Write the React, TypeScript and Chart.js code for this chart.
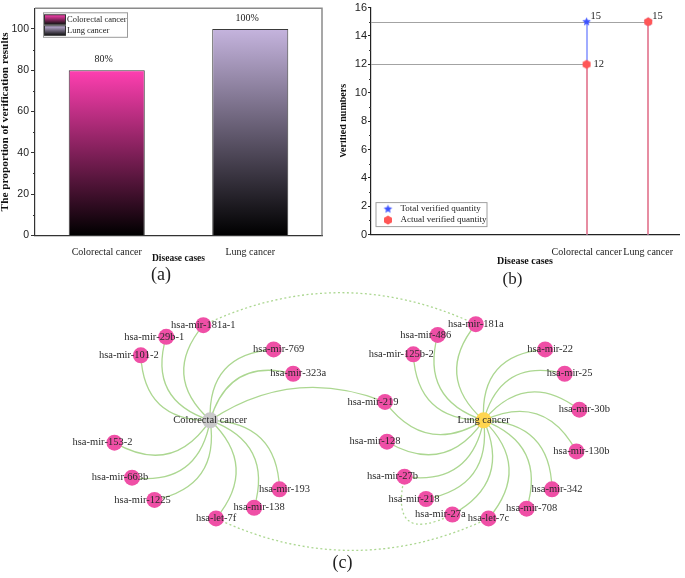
import React, { useEffect, useRef } from 'react';
import { Chart, registerables } from 'chart.js';

Chart.register(...registerables);

const SERIF = '"Liberation Serif", "Times New Roman", Times, serif';
const SANS = '"Liberation Sans", Arial, Helvetica, sans-serif';

// ---------- (a) proportion of verification results ----------
const diseaseCases = ['Colorectal cancer', 'Lung cancer'];
const verificationProportion = [80, 100];
const proportionLabels = ['80%', '100%'];

// ---------- (b) verified numbers ----------
const verifiedSeries = ['Total verified quantity', 'Actual verified quantity'];
const totalVerified = [15, 15];
const actualVerified = [12, 15];
const caseSlots = [3.5, 4.5]; // row index of each case on the x axis

// ---------- (c) network (layout coordinates) ----------
const hubNames = ['Colorectal cancer', 'Lung cancer'];
const hubX = [207, 487];
const hubY = [126, 126];

const colorectalMirnas = [
  'hsa-mir-181a-1', 'hsa-mir-29b-1', 'hsa-mir-101-2', 'hsa-mir-769', 'hsa-mir-323a',
  'hsa-mir-153-2', 'hsa-mir-663b', 'hsa-mir-1225', 'hsa-let-7f', 'hsa-mir-138', 'hsa-mir-193',
];
const colorectalX = [200, 162, 136, 272, 292, 109, 127, 150, 213, 252, 278];
const colorectalY = [28, 40, 59, 53, 78, 149, 185, 208, 227, 216, 197];

const lungMirnas = [
  'hsa-mir-181a', 'hsa-mir-486', 'hsa-mir-125b-2', 'hsa-mir-22', 'hsa-mir-25', 'hsa-mir-30b',
  'hsa-mir-130b', 'hsa-mir-342', 'hsa-mir-708', 'hsa-let-7c', 'hsa-mir-27a', 'hsa-mir-218',
  'hsa-mir-27b', 'hsa-mir-128', 'hsa-mir-219',
];
const lungX = [479, 440, 415, 550, 570, 585, 582, 557, 531, 492, 455, 428, 406, 388, 386];
const lungY = [27, 38, 58, 53, 78, 115, 158, 197, 217, 227, 223, 207, 184, 148, 107];

const crossLinks = [['Colorectal cancer', 'hsa-mir-219']];
const familyLinks = [
  ['hsa-mir-181a-1', 'hsa-mir-181a'],
  ['hsa-let-7c', 'hsa-let-7f'],
  ['hsa-mir-27a', 'hsa-mir-27b'],
];

// ---------- styles ----------
const barTopColors = ['#ff3fb1', '#c5b4de'];
const starColor = '#3c52ff';
const dotColor = '#ff5656';
const dropColors = ['#8090ff', '#ff8383'];
const mirnaColor = '#ef4fa6';
const hubColors = ['#c9c9c9', '#ffd54f'];
const edgeColor = '#acd791';

function makeStar(r: number, color: string) {
  const c = document.createElement('canvas');
  const s = Math.ceil(r * 2 + 2);
  c.width = s; c.height = s;
  const g = c.getContext('2d')!;
  g.fillStyle = color;
  g.beginPath();
  for (let k = 0; k < 10; k++) {
    const rad = k % 2 === 0 ? r : r * 0.45;
    const a = -Math.PI / 2 + (k * Math.PI) / 5;
    g.lineTo(s / 2 + rad * Math.cos(a), s / 2 + rad * Math.sin(a));
  }
  g.closePath();
  g.fill();
  return c;
}

function makePolygon(r: number, n: number, color: string) {
  const c = document.createElement('canvas');
  const s = Math.ceil(r * 2 + 2);
  c.width = s; c.height = s;
  const g = c.getContext('2d')!;
  g.fillStyle = color;
  g.beginPath();
  for (let k = 0; k < n; k++) {
    const a = -Math.PI / 2 + (k * 2 * Math.PI) / n;
    g.lineTo(s / 2 + r * Math.cos(a), s / 2 + r * Math.sin(a));
  }
  g.closePath();
  g.fill();
  return c;
}

const minorTicks = {
  id: 'minorTicks',
  afterDraw(chart: any) {
    const s = chart.scales.y;
    const ctx = chart.ctx;
    const ticks = s.ticks;
    ctx.save();
    ctx.strokeStyle = '#333';
    ctx.lineWidth = 1;
    for (let i = 0; i < ticks.length - 1; i++) {
      const v = (ticks[i].value + ticks[i + 1].value) / 2;
      const py = Math.round(s.getPixelForValue(v)) + 0.5;
      ctx.beginPath();
      ctx.moveTo(s.right, py);
      ctx.lineTo(s.right - 2, py);
      ctx.stroke();
    }
    ctx.restore();
  },
};

const frameA = {
  id: 'frameA',
  beforeDatasetsDraw(chart: any) {
    const { ctx, chartArea: a } = chart;
    ctx.save();
    ctx.strokeStyle = '#8a8a8a';
    ctx.lineWidth = 1.5;
    ctx.beginPath();
    ctx.moveTo(a.left, a.top);
    ctx.lineTo(a.right, a.top);
    ctx.lineTo(a.right, a.bottom);
    ctx.stroke();
    ctx.restore();
  },
};

const valueLabelsA = {
  id: 'valueLabelsA',
  afterDatasetsDraw(chart: any) {
    const { ctx } = chart;
    const meta = chart.getDatasetMeta(0);
    ctx.save();
    ctx.font = `10px ${SERIF}`;
    ctx.fillStyle = '#222';
    ctx.textAlign = 'center';
    ctx.textBaseline = 'middle';
    meta.data.forEach((el: any, i: number) => {
      ctx.fillText(proportionLabels[i], el.x - 3, el.y - 11);
    });
    ctx.restore();
  },
};

const legendA = {
  id: 'legendA',
  afterDraw(chart: any) {
    const { ctx, chartArea: a } = chart;
    const x = a.left + 8.5;
    const y = a.top + 4.5;
    const w = 84;
    const rowH = 11;
    const h = 24.5;
    ctx.save();
    ctx.fillStyle = '#fff';
    ctx.fillRect(x, y, w, h);
    ctx.strokeStyle = '#9a9a9a';
    ctx.lineWidth = 1;
    ctx.strokeRect(x, y, w, h);
    diseaseCases.forEach((name, i) => {
      const sy = y + 2 + i * rowH;
      const g = ctx.createLinearGradient(0, sy, 0, sy + 9.5);
      g.addColorStop(0, barTopColors[i]);
      g.addColorStop(1, '#111');
      ctx.fillStyle = g;
      ctx.fillRect(x + 1, sy, 21, 9.5);
      ctx.strokeStyle = '#333';
      ctx.strokeRect(x + 1, sy, 21, 9.5);
      ctx.fillStyle = '#222';
      ctx.font = `8.5px ${SERIF}`;
      ctx.textAlign = 'left';
      ctx.textBaseline = 'middle';
      ctx.fillText(name, x + 23.5, sy + 5);
    });
    ctx.restore();
  },
};

function barFill(c: any) {
  const chart = c.chart;
  const ys = chart.scales && chart.scales.y;
  const i = c.dataIndex ?? 0;
  const color = barTopColors[i % barTopColors.length];
  if (!ys) return color;
  const top = ys.getPixelForValue(verificationProportion[i]);
  const bot = ys.getPixelForValue(0);
  if (!isFinite(top) || !isFinite(bot) || top === bot) return color;
  const g = chart.ctx.createLinearGradient(0, top, 0, bot);
  g.addColorStop(0, color);
  g.addColorStop(1, '#000000');
  return g;
}

function makeDropLines() {
  return {
    id: 'dropLines',
    beforeDatasetsDraw(chart: any) {
      const { ctx } = chart;
      const xs = chart.scales.x;
      const ys = chart.scales.y;
      const y0 = ys.getPixelForValue(0);
      const series = [totalVerified, actualVerified];
      ctx.save();
      ctx.strokeStyle = '#a3a3a3';
      ctx.lineWidth = 1;
      series.forEach((vals) =>
        vals.forEach((v, i) => {
          const px = xs.getPixelForValue(caseSlots[i]);
          const py = Math.round(ys.getPixelForValue(v)) + 0.5;
          ctx.beginPath();
          ctx.moveTo(xs.left, py);
          ctx.lineTo(px, py);
          ctx.stroke();
        })
      );
      series.forEach((vals, si) => {
        ctx.strokeStyle = dropColors[si];
        ctx.lineWidth = 1.5;
        vals.forEach((v, i) => {
          const px = Math.round(xs.getPixelForValue(caseSlots[i]));
          const py = ys.getPixelForValue(v);
          ctx.beginPath();
          ctx.moveTo(px, py);
          ctx.lineTo(px, y0);
          ctx.stroke();
        });
      });
      ctx.restore();
    },
  };
}

const valueLabelsB = {
  id: 'valueLabelsB',
  afterDatasetsDraw(chart: any) {
    const { ctx } = chart;
    const xs = chart.scales.x;
    const ys = chart.scales.y;
    ctx.save();
    ctx.font = `10.5px ${SERIF}`;
    ctx.fillStyle = '#222';
    ctx.textAlign = 'left';
    ctx.textBaseline = 'middle';
    totalVerified.forEach((v, i) => {
      const px = xs.getPixelForValue(caseSlots[i]);
      const py = ys.getPixelForValue(v);
      ctx.fillText(String(v), px + 4, py - 6);
    });
    actualVerified.forEach((v, i) => {
      if (v === totalVerified[i]) return;
      const px = xs.getPixelForValue(caseSlots[i]);
      const py = ys.getPixelForValue(v);
      ctx.fillText(String(v), px + 7, py);
    });
    ctx.restore();
  },
};

function makeLegendB(markers: HTMLCanvasElement[]) {
  return {
    id: 'legendB',
    afterDraw(chart: any) {
      const { ctx, chartArea: a } = chart;
      const x = a.left + 5;
      const h = 24;
      const y = a.bottom - 8 - h;
      const w = 111;
      ctx.save();
      ctx.fillStyle = '#fff';
      ctx.fillRect(x, y, w, h);
      ctx.strokeStyle = '#a0a0a0';
      ctx.lineWidth = 1;
      ctx.strokeRect(x, y, w, h);
      verifiedSeries.forEach((name, i) => {
        const cy = y + 6.5 + i * 11;
        const m = markers[i];
        ctx.drawImage(m, x + 12 - m.width / 2, cy - m.height / 2);
        ctx.fillStyle = '#222';
        ctx.font = `9px ${SERIF}`;
        ctx.textAlign = 'left';
        ctx.textBaseline = 'middle';
        ctx.fillText(name, x + 24.5, cy);
      });
      ctx.restore();
    },
  };
}

type Node = { name: string; x: number; y: number; hub: number };

function buildNodes(): Node[] {
  const nodes: Node[] = [];
  colorectalMirnas.forEach((n, i) => nodes.push({ name: n, x: colorectalX[i], y: colorectalY[i], hub: 0 }));
  lungMirnas.forEach((n, i) => nodes.push({ name: n, x: lungX[i], y: lungY[i], hub: 1 }));
  return nodes;
}

function curve(ctx: CanvasRenderingContext2D, x1: number, y1: number, x2: number, y2: number, bend: number) {
  const dx = x2 - x1;
  const dy = y2 - y1;
  const L = Math.hypot(dx, dy) || 1;
  const cx = (x1 + x2) / 2 + (bend * dy) / L;
  const cy = (y1 + y2) / 2 - (bend * dx) / L;
  ctx.beginPath();
  ctx.moveTo(x1, y1);
  ctx.quadraticCurveTo(cx, cy, x2, y2);
  ctx.stroke();
}

function makeNetworkPlugins(nodes: Node[]) {
  const pos = (chart: any, name: string) => {
    const xs = chart.scales.x;
    const ys = chart.scales.y;
    const h = hubNames.indexOf(name);
    if (h >= 0) return [xs.getPixelForValue(hubX[h]), ys.getPixelForValue(hubY[h])];
    const n = nodes.find((d) => d.name === name)!;
    return [xs.getPixelForValue(n.x), ys.getPixelForValue(n.y)];
  };
  const edges = {
    id: 'edges',
    beforeDatasetsDraw(chart: any) {
      const { ctx } = chart;
      ctx.save();
      ctx.strokeStyle = edgeColor;
      ctx.lineWidth = 1.3;
      nodes.forEach((n) => {
        const [hx, hy] = pos(chart, hubNames[n.hub]);
        const [nx, ny] = pos(chart, n.name);
        curve(ctx, hx, hy, nx, ny, 46);
      });
      crossLinks.forEach(([a, b]) => {
        const [ax, ay] = pos(chart, a);
        const [bx, by] = pos(chart, b);
        curve(ctx, ax, ay, bx, by, 46);
      });
      ctx.setLineDash([2, 2.5]);
      familyLinks.forEach(([a, b]) => {
        const [ax, ay] = pos(chart, a);
        const [bx, by] = pos(chart, b);
        curve(ctx, ax, ay, bx, by, 64);
      });
      ctx.restore();
    },
  };
  const labels = {
    id: 'nodeLabels',
    afterDatasetsDraw(chart: any) {
      const { ctx } = chart;
      ctx.save();
      ctx.font = `10.5px ${SERIF}`;
      ctx.fillStyle = '#2a2a2a';
      ctx.textAlign = 'center';
      ctx.textBaseline = 'middle';
      nodes.forEach((n) => {
        const [nx, ny] = pos(chart, n.name);
        const [hx] = pos(chart, hubNames[n.hub]);
        const dx = nx - hx;
        const shift = dx < -30 ? -12 : dx > 30 ? 5 : 0;
        ctx.fillText(n.name, nx + shift, ny);
      });
      hubNames.forEach((h) => {
        const [hx, hy] = pos(chart, h);
        ctx.fillText(h, hx, hy);
      });
      ctx.restore();
    },
  };
  return [edges, labels];
}

export default function App() {
  const refA = useRef<HTMLCanvasElement>(null);
  const refB = useRef<HTMLCanvasElement>(null);
  const refC = useRef<HTMLCanvasElement>(null);

  useEffect(() => {
    document.body.style.margin = '0';
    document.body.style.background = '#fff';
    const charts: Chart[] = [];

    // ----- (a) -----
    charts.push(
      new Chart(refA.current!, {
        type: 'bar',
        data: {
          labels: diseaseCases,
          datasets: [
            {
              label: 'Proportion',
              data: verificationProportion,
              backgroundColor: barFill as any,
              borderColor: '#3a3a3a',
              borderWidth: 1,
              barPercentage: 0.53,
              categoryPercentage: 1,
            },
          ],
        },
        options: {
          responsive: false,
          animation: false,
          events: [],
          layout: { padding: { top: 5, right: 18, bottom: 4, left: 0 } },
          plugins: {
            legend: { display: false },
            tooltip: { enabled: false },
            title: {
              display: true,
              text: '(a)',
              position: 'bottom',
              font: { family: SERIF, size: 18, weight: 'normal' },
              color: '#222',
              padding: { top: 0, bottom: 0 },
            },
          },
          scales: {
            x: {
              grid: { display: false },
              border: { display: true, color: '#333', width: 1.2 },
              ticks: { font: { family: SERIF, size: 10 }, color: '#222', padding: 3 },
              title: {
                display: true,
                text: 'Disease cases',
                font: { family: SERIF, size: 9.5, weight: 'bold' },
                color: '#111',
                padding: 0,
              },
              afterFit: (s: any) => { s.height = 29; },
            },
            y: {
              min: 0,
              max: 110,
              ticks: { stepSize: 20, includeBounds: false, font: { family: SANS, size: 10.5 }, color: '#222', padding: 2 },
              grid: { drawOnChartArea: false, drawTicks: true, tickLength: 4, color: '#333' },
              border: { color: '#333', width: 1.2 },
              title: {
                display: true,
                text: 'The proportion of verification results',
                font: { family: SERIF, size: 11.3, weight: 'bold' },
                color: '#111',
                padding: { top: -1.5, bottom: 0 },
              },
              afterFit: (s: any) => { s.width = 35; },
            },
          },
        } as any,
        plugins: [frameA, minorTicks, valueLabelsA, legendA],
      })
    );

    // ----- (b) -----
    const star = makeStar(4.5, starColor);
    const dot = makePolygon(4.6, 6, dotColor);
    charts.push(
      new Chart(refB.current!, {
        type: 'scatter',
        data: {
          datasets: [
            {
              label: verifiedSeries[0],
              data: caseSlots.map((x, i) => ({ x, y: totalVerified[i] })),
              pointStyle: star as any,
              pointRadius: 5,
              order: 1,
            },
            {
              label: verifiedSeries[1],
              data: caseSlots.map((x, i) => ({ x, y: actualVerified[i] })),
              pointStyle: dot as any,
              pointRadius: 5,
              order: 0,
            },
          ],
        },
        options: {
          responsive: false,
          animation: false,
          events: [],
          layout: { padding: { top: 5, right: 0, bottom: 0, left: 0 } },
          plugins: {
            legend: { display: false },
            tooltip: { enabled: false },
            title: {
              display: true,
              text: '(b)',
              position: 'bottom',
              font: { family: SERIF, size: 17, weight: 'normal' },
              color: '#222',
              padding: { top: 2, bottom: 0 },
            },
          },
          scales: {
            x: {
              type: 'linear',
              min: 0,
              max: 5,
              afterBuildTicks: (s: any) => { s.ticks = caseSlots.map((v) => ({ value: v })); },
              ticks: {
                callback: (_v: any, i: number) => diseaseCases[i],
                font: { family: SERIF, size: 10 },
                color: '#222',
                padding: 4,
                autoSkip: false,
                maxRotation: 0,
              },
              grid: { display: false },
              border: { display: true, color: '#222', width: 1.2 },
              title: {
                display: true,
                text: 'Disease cases',
                font: { family: SERIF, size: 10, weight: 'bold' },
                color: '#111',
                padding: 0,
              },
              afterFit: (s: any) => { s.height = 33; },
            },
            y: {
              min: 0,
              max: 16,
              ticks: { stepSize: 2, font: { family: SANS, size: 11 }, color: '#222', padding: 1 },
              grid: { drawOnChartArea: false, drawTicks: true, tickLength: 3, color: '#222' },
              border: { color: '#222', width: 1.2 },
              title: {
                display: true,
                text: 'Verified numbers',
                font: { family: SERIF, size: 10, weight: 'bold' },
                color: '#111',
                padding: { top: -3, bottom: 0 },
              },
              afterFit: (s: any) => { s.width = 31; },
            },
          },
        } as any,
        plugins: [makeDropLines(), minorTicks, valueLabelsB, makeLegendB([star, dot])],
      })
    );

    // ----- (c) -----
    const nodes = buildNodes();
    charts.push(
      new Chart(refC.current!, {
        type: 'scatter',
        data: {
          datasets: [
            {
              label: 'miRNA',
              data: nodes.map((n) => ({ x: n.x, y: n.y })),
              pointRadius: 8,
              pointBackgroundColor: mirnaColor,
              pointBorderWidth: 0,
            },
            {
              label: 'Disease',
              data: hubNames.map((_, i) => ({ x: hubX[i], y: hubY[i] })),
              pointRadius: 8,
              pointBackgroundColor: hubColors,
              pointBorderWidth: 0,
            },
          ],
        },
        options: {
          responsive: false,
          animation: false,
          events: [],
          layout: { padding: 0 },
          plugins: {
            legend: { display: false },
            tooltip: { enabled: false },
            title: {
              display: true,
              text: '(c)',
              position: 'bottom',
              font: { family: SERIF, size: 18, weight: 'normal' },
              color: '#222',
              padding: { top: 0, bottom: 4 },
            },
          },
          scales: {
            x: { type: 'linear', min: 0, max: 685, display: false },
            y: { type: 'linear', min: 0, max: 262, reverse: true, display: false },
          },
        } as any,
        plugins: makeNetworkPlugins(nodes),
      })
    );

    return () => charts.forEach((c) => c.destroy());
  }, []);

  return (
    <div style={{ position: 'relative', width: 685, height: 578, background: '#fff', overflow: 'hidden' }}>
      <canvas ref={refA} width={340} height={290} style={{ position: 'absolute', left: 0, top: 0, width: 340, height: 290 }} />
      <canvas ref={refB} width={345} height={290} style={{ position: 'absolute', left: 340, top: 0, width: 345, height: 290 }} />
      <canvas ref={refC} width={685} height={288} style={{ position: 'absolute', left: 0, top: 290, width: 685, height: 288 }} />
    </div>
  );
}
